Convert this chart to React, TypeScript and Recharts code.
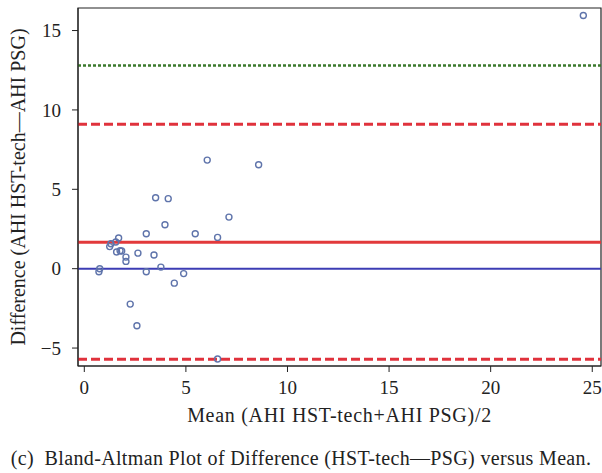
import { ScatterChart, Scatter, XAxis, YAxis, ReferenceLine, ReferenceArea } from 'recharts'

const meanValues = [
  6.05, 8.58, 3.51, 4.13, 7.12, 3.97, 3.05, 5.46, 6.56, 1.69, 1.55, 1.31, 1.25, 1.59, 1.76, 1.84, 2.05, 2.05,
  2.64, 3.43, 3.77, 0.76, 0.72, 3.05, 4.89, 4.43, 2.26, 2.59, 6.56, 24.56,
]
const diffValues = [
  6.84, 6.55, 4.47, 4.41, 3.25, 2.77, 2.2, 2.2, 1.97, 1.93, 1.68, 1.57, 1.39, 1.05, 1.13, 1.11, 0.73, 0.46,
  0.98, 0.86, 0.1, 0.0, -0.19, -0.19, -0.31, -0.91, -2.23, -3.59, -5.69, 15.95,
]
const xTicks = [0, 5, 10, 15, 20, 25]
const yTicks = [-5, 0, 5, 10, 15]
const meanDiff = 1.67
const upperLimit = 9.1
const lowerLimit = -5.7
const upperCI = 12.8

const X_DOMAIN: [number, number] = [-0.31, 25.43]
const Y_DOMAIN: [number, number] = [-6.13, 16.42]
const FONT = '"Liberation Serif", "DejaVu Serif", serif'

const points = meanValues.map((m, i) => ({ mean: m, diff: diffValues[i] }))

function OpenCircle(props: any) {
  const { cx, cy } = props
  if (cx == null || cy == null) return null
  return <circle cx={cx} cy={cy} r={3} fill="none" stroke="#5f74ab" strokeWidth={1.4} />
}

export default function App() {
  return (
    <div style={{ position: 'absolute', left: 0, top: 0, width: 602, height: 473, background: '#fff' }}>
      <ScatterChart width={602} height={473} margin={{ top: 8, right: 1, bottom: 77, left: 18 }}>
        <XAxis
          type="number"
          dataKey="mean"
          domain={X_DOMAIN}
          ticks={xTicks}
          allowDataOverflow
          height={30}
          tickSize={6}
          tickMargin={9}
          stroke="#222"
          tick={{ fill: '#222', fontSize: 19, fontFamily: FONT }}
          label={{
            content: (p: any) => {
              const vb = p.viewBox
              return (
                <text
                  x={vb.x + vb.width / 2}
                  y={vb.y + 56}
                  textAnchor="middle"
                  fill="#222"
                  fontSize={20}
                  letterSpacing={0.7}
                  fontFamily={FONT}
                >
                  Mean (AHI HST-tech+AHI PSG)/2
                </text>
              )
            },
          }}
        />
        <YAxis
          type="number"
          dataKey="diff"
          domain={Y_DOMAIN}
          ticks={yTicks}
          allowDataOverflow
          width={60}
          tickSize={6}
          tickMargin={11}
          stroke="#222"
          tickFormatter={(v: number) => (v < 0 ? `\u2212${Math.abs(v)}` : `${v}`)}
          tick={{ fill: '#222', fontSize: 19, fontFamily: FONT }}
          label={{
            content: (p: any) => {
              const vb = p.viewBox
              const cx = 25
              const cy = vb.y + vb.height / 2
              return (
                <text
                  x={cx}
                  y={cy}
                  transform={`rotate(-90 ${cx} ${cy})`}
                  textAnchor="middle"
                  fill="#222"
                  fontSize={20}
                  fontFamily={FONT}
                >
                  Difference (AHI HST-tech{'\u2014'}AHI PSG)
                </text>
              )
            },
          }}
        />
        <ReferenceArea x1={X_DOMAIN[0]} x2={X_DOMAIN[1]} y1={Y_DOMAIN[0]} y2={Y_DOMAIN[1]} fill="none" stroke="#222" strokeWidth={1.2} />
        <ReferenceLine y={upperCI} stroke="#3b7a2c" strokeWidth={2.5} strokeDasharray="3 2" />
        <ReferenceLine y={upperLimit} stroke="#e0323c" strokeWidth={3} strokeDasharray="9 4" />
        <ReferenceLine y={meanDiff} stroke="#e2393b" strokeWidth={3} />
        <ReferenceLine y={0} stroke="#3c3cb4" strokeWidth={2} />
        <ReferenceLine y={lowerLimit} stroke="#e0323c" strokeWidth={3} strokeDasharray="9 4" />
        <Scatter data={points} shape={OpenCircle} isAnimationActive={false} />
      </ScatterChart>
      <div
        style={{
          position: 'absolute',
          left: 0,
          top: 447,
          width: 602,
          textAlign: 'center',
          fontFamily: FONT,
          fontSize: 20,
          letterSpacing: 0.35,
          color: '#222',
          whiteSpace: 'nowrap',
        }}
      >
        (c)&nbsp; Bland-Altman Plot of Difference (HST-tech{'\u2014'}PSG) versus Mean.
      </div>
    </div>
  )
}
